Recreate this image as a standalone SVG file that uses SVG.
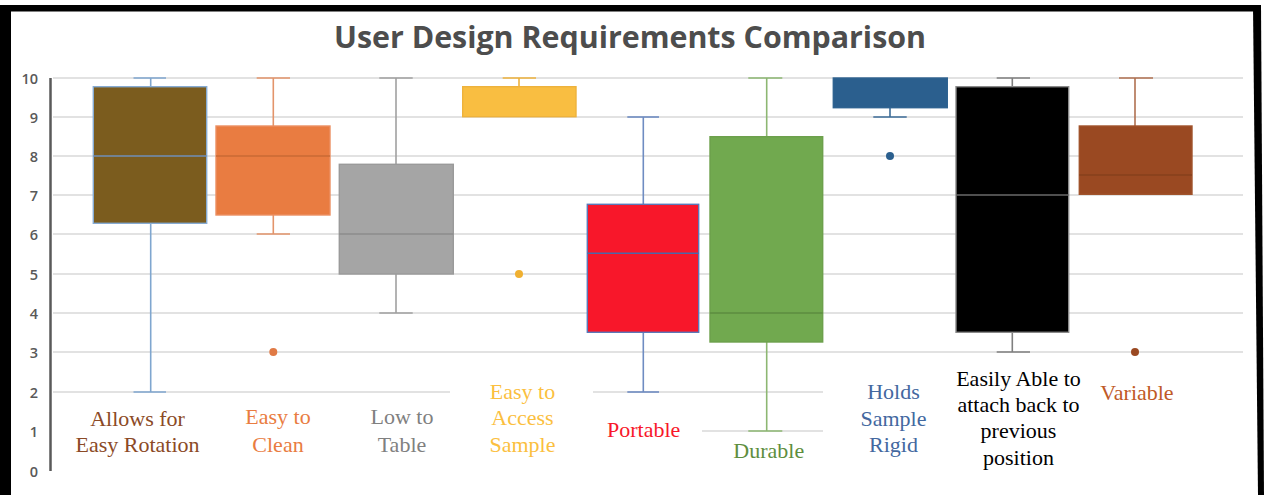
<svg xmlns="http://www.w3.org/2000/svg" width="1264" height="495" viewBox="0 0 1264 495">
  <style>
    .grid { stroke: #d9d9d9; stroke-width: 1.5; fill: none; }
    .axis { stroke: #595959; stroke-width: 2.5; fill: none; }
    .tick { font-family: "Open Sans", "Liberation Sans", sans-serif; font-size: 14.5px; font-weight: 600; fill: #595959; text-anchor: end; }
    .title { font-family: "Open Sans", "Liberation Sans", sans-serif; font-size: 30px; font-weight: 700; fill: #4d4d4d; text-anchor: middle; }
    .lbl { font-family: "Liberation Serif", "Times New Roman", serif; font-size: 22px; text-anchor: middle; }
    .wh { stroke-width: 1.6; fill: none; }
    .med { stroke-width: 1.4; fill: none; }
    .box { stroke-width: 1.4; }
  </style>

  <!-- page frame -->
  <rect x="0" y="0" width="1264" height="495" fill="#ffffff"/>
  <rect x="0" y="5" width="11" height="490" fill="#000000"/>
  <rect x="0" y="5" width="1261" height="6.5" fill="#000000"/>
  <polygon points="1253,5 1261,5 1264,495 1258,495" fill="#000000"/>

  <!-- title -->
  <text class="title" x="630" y="47.5" textLength="592" lengthAdjust="spacingAndGlyphs">User Design Requirements Comparison</text>

  <!-- value grid and axis -->
  <g id="axes">
    <line class="grid" x1="53" y1="78" x2="1243" y2="78"/>
    <line class="grid" x1="53" y1="117" x2="1243" y2="117"/>
    <line class="grid" x1="53" y1="156" x2="1243" y2="156"/>
    <line class="grid" x1="53" y1="195" x2="1243" y2="195"/>
    <line class="grid" x1="53" y1="234" x2="1243" y2="234"/>
    <line class="grid" x1="53" y1="274" x2="1243" y2="274"/>
    <line class="grid" x1="53" y1="313" x2="1243" y2="313"/>
    <line class="grid" x1="53" y1="352" x2="1243" y2="352"/>
    <line class="grid" x1="53" y1="392" x2="450" y2="392"/>
    <line class="grid" x1="593" y1="392" x2="823" y2="392"/>
    <line class="grid" x1="702" y1="431" x2="823" y2="431"/>
    <line class="axis" x1="50.5" y1="78" x2="50.5" y2="471"/>
    <text class="tick" x="38" y="83.5">10</text>
    <text class="tick" x="38" y="122.5">9</text>
    <text class="tick" x="38" y="161.5">8</text>
    <text class="tick" x="38" y="200.5">7</text>
    <text class="tick" x="38" y="239.5">6</text>
    <text class="tick" x="38" y="279.5">5</text>
    <text class="tick" x="38" y="318.5">4</text>
    <text class="tick" x="38" y="357.5">3</text>
    <text class="tick" x="38" y="397.5">2</text>
    <text class="tick" x="38" y="436.5">1</text>
    <text class="tick" x="38" y="476.5">0</text>
  </g>

  <!-- Allows for Easy Rotation -->
  <g id="rotation">
    <line class="wh" stroke="#7fa6cf" x1="150.7" y1="78" x2="150.7" y2="86.7"/>
    <line class="wh" stroke="#7fa6cf" x1="150.7" y1="223.3" x2="150.7" y2="392"/>
    <line class="wh" stroke="#7fa6cf" x1="133.5" y1="78" x2="166" y2="78"/>
    <line class="wh" stroke="#7fa6cf" x1="133.5" y1="392" x2="166" y2="392"/>
    <rect class="box" x="93.3" y="86.7" width="113.4" height="136.6" fill="#7b5c1e" stroke="#86abd3"/>
    <line class="med" stroke="#6f8fb8" x1="93.3" y1="156" x2="206.7" y2="156"/>
    <text class="lbl" fill="#8b4a26" x="137.5" y="426">Allows for</text>
    <text class="lbl" fill="#8b4a26" x="137.5" y="452">Easy Rotation</text>
  </g>

  <!-- Easy to Clean -->
  <g id="clean">
    <line class="wh" stroke="#e3946b" x1="273.3" y1="78" x2="273.3" y2="126"/>
    <line class="wh" stroke="#e3946b" x1="273.3" y1="215" x2="273.3" y2="234"/>
    <line class="wh" stroke="#e3946b" x1="256.7" y1="78" x2="290" y2="78"/>
    <line class="wh" stroke="#e3946b" x1="256.7" y1="234" x2="290" y2="234"/>
    <rect class="box" x="216" y="126" width="114" height="89" fill="#e97c41" stroke="#eb8f62"/>
    <line class="med" stroke="#c96a35" x1="216" y1="156" x2="330" y2="156"/>
    <circle cx="273.3" cy="352" r="4" fill="#e07a45"/>
    <text class="lbl" fill="#e97c41" x="278" y="424">Easy to</text>
    <text class="lbl" fill="#e97c41" x="278" y="451.5">Clean</text>
  </g>

  <!-- Low to Table -->
  <g id="low-table">
    <line class="wh" stroke="#a0a0a0" x1="396" y1="78" x2="396" y2="164.3"/>
    <line class="wh" stroke="#a0a0a0" x1="396" y1="274" x2="396" y2="313"/>
    <line class="wh" stroke="#a0a0a0" x1="379.3" y1="78" x2="412.7" y2="78"/>
    <line class="wh" stroke="#a0a0a0" x1="379.3" y1="313" x2="412.7" y2="313"/>
    <rect class="box" x="339.3" y="164.3" width="114" height="109.7" fill="#a5a5a5" stroke="#9a9a9a"/>
    <line class="med" stroke="#8c8c8c" x1="339.3" y1="234" x2="453.3" y2="234"/>
    <text class="lbl" fill="#808080" x="402" y="424">Low to</text>
    <text class="lbl" fill="#808080" x="402" y="451.5">Table</text>
  </g>

  <!-- Easy to Access Sample -->
  <g id="access">
    <line class="wh" stroke="#eeb23c" x1="519" y1="78" x2="519" y2="86.7"/>
    <line class="wh" stroke="#eeb23c" x1="502.7" y1="78" x2="536" y2="78"/>
    <rect class="box" x="462.7" y="86.7" width="113.3" height="30" fill="#f9be41" stroke="#eeb23c"/>
    <circle cx="519" cy="274" r="4" fill="#f0b030"/>
    <text class="lbl" fill="#fbbf3f" x="522.5" y="399">Easy to</text>
    <text class="lbl" fill="#fbbf3f" x="522.5" y="425.3">Access</text>
    <text class="lbl" fill="#fbbf3f" x="522.5" y="451.6">Sample</text>
  </g>

  <!-- Portable -->
  <g id="portable">
    <line class="wh" stroke="#6f8cc2" x1="643.3" y1="117" x2="643.3" y2="204.3"/>
    <line class="wh" stroke="#6f8cc2" x1="643.3" y1="332.3" x2="643.3" y2="392"/>
    <line class="wh" stroke="#6f8cc2" x1="627.3" y1="117" x2="659" y2="117"/>
    <line class="wh" stroke="#6f8cc2" x1="627.3" y1="392" x2="659" y2="392"/>
    <rect class="box" x="587.3" y="204.3" width="111.4" height="128" fill="#f8172a" stroke="#5b78b8"/>
    <line class="med" stroke="#4d67a8" stroke-width="2" x1="587.3" y1="253.3" x2="698.7" y2="253.3"/>
    <text class="lbl" fill="#f8172a" x="643.7" y="437.3">Portable</text>
  </g>

  <!-- Durable -->
  <g id="durable">
    <line class="wh" stroke="#8db772" x1="766.7" y1="78" x2="766.7" y2="136.7"/>
    <line class="wh" stroke="#8db772" x1="766.7" y1="342" x2="766.7" y2="431"/>
    <line class="wh" stroke="#8db772" x1="748.3" y1="78" x2="782.3" y2="78"/>
    <line class="wh" stroke="#8db772" x1="748.3" y1="431" x2="782.3" y2="431"/>
    <rect class="box" x="710" y="136.7" width="112.7" height="205.3" fill="#71a94f" stroke="#6da04c"/>
    <line class="med" stroke="#5c8c3f" x1="710" y1="313" x2="822.7" y2="313"/>
    <text class="lbl" fill="#5e8e3e" font-size="20" x="768.8" y="458.3">Durable</text>
  </g>

  <!-- Holds Sample Rigid -->
  <g id="rigid">
    <line class="wh" stroke="#3d6c98" x1="890" y1="107.7" x2="890" y2="117"/>
    <line class="wh" stroke="#3d6c98" x1="873.3" y1="117" x2="906.7" y2="117"/>
    <rect class="box" x="833.3" y="78" width="114" height="29.7" fill="#2b5f8e" stroke="#2f6391"/>
    <circle cx="890" cy="156" r="4" fill="#2b5f8e"/>
    <text class="lbl" fill="#43689f" x="893.5" y="399">Holds</text>
    <text class="lbl" fill="#43689f" x="893.5" y="425.5">Sample</text>
    <text class="lbl" fill="#43689f" x="893.5" y="451.7">Rigid</text>
  </g>

  <!-- Easily Able to attach back to previous position -->
  <g id="reattach">
    <line class="wh" stroke="#7f7f7f" x1="1012.3" y1="78" x2="1012.3" y2="86.7"/>
    <line class="wh" stroke="#7f7f7f" x1="1012.3" y1="332.3" x2="1012.3" y2="352"/>
    <line class="wh" stroke="#7f7f7f" x1="996.7" y1="78" x2="1030" y2="78"/>
    <line class="wh" stroke="#7f7f7f" x1="996.7" y1="352" x2="1030" y2="352"/>
    <rect class="box" x="956" y="86.7" width="112.7" height="245.6" fill="#000000" stroke="#8a8a8a"/>
    <line class="med" stroke="#6a6a6a" x1="956" y1="195" x2="1068.7" y2="195"/>
    <text class="lbl" fill="#000000" x="1018.5" y="385.7">Easily Able to</text>
    <text class="lbl" fill="#000000" x="1018.5" y="411.9">attach back to</text>
    <text class="lbl" fill="#000000" x="1018.5" y="438.3">previous</text>
    <text class="lbl" fill="#000000" x="1018.5" y="464.5">position</text>
  </g>

  <!-- Variable -->
  <g id="variable">
    <line class="wh" stroke="#b07050" x1="1135" y1="78" x2="1135" y2="126"/>
    <line class="wh" stroke="#b07050" x1="1119" y1="78" x2="1153" y2="78"/>
    <rect class="box" x="1079.3" y="126" width="112.7" height="68.3" fill="#9a4922" stroke="#a0532b"/>
    <line class="med" stroke="#86401c" x1="1079.3" y1="175" x2="1192" y2="175"/>
    <circle cx="1135" cy="352" r="4" fill="#9a4922"/>
    <text class="lbl" fill="#c05a27" x="1137" y="400">Variable</text>
  </g>
</svg>
